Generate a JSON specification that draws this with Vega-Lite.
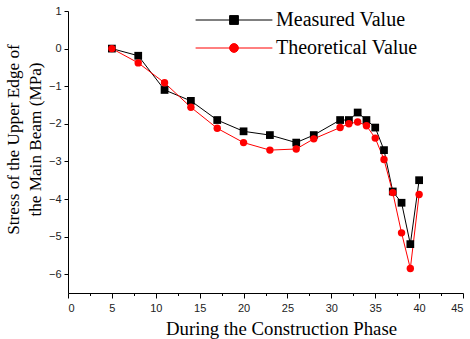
{
  "$schema": "https://vega.github.io/schema/vega-lite/v6.json",
  "width": 395,
  "height": 282,
  "autosize": {"type": "none"},
  "padding": {"left": 68, "top": 11, "right": 7, "bottom": 46},
  "background": "white",
  "config": {
    "view": {"stroke": null},
    "axis": {
      "grid": false,
      "domainColor": "black",
      "tickColor": "black",
      "labelFont": "Liberation Sans",
      "labelFontSize": 11,
      "labelColor": "#222",
      "titleFont": "Liberation Serif",
      "titleFontSize": 18,
      "titleFontWeight": "normal",
      "titleColor": "black"
    }
  },
  "data": {
    "values": [
      {"x": 5, "v": 0, "s": "Measured Value"},
      {"x": 8, "v": -0.19, "s": "Measured Value"},
      {"x": 11, "v": -1.1, "s": "Measured Value"},
      {"x": 14, "v": -1.39, "s": "Measured Value"},
      {"x": 17, "v": -1.9, "s": "Measured Value"},
      {"x": 20, "v": -2.2, "s": "Measured Value"},
      {"x": 23, "v": -2.3, "s": "Measured Value"},
      {"x": 26, "v": -2.5, "s": "Measured Value"},
      {"x": 28, "v": -2.3, "s": "Measured Value"},
      {"x": 31, "v": -1.9, "s": "Measured Value"},
      {"x": 32, "v": -1.9, "s": "Measured Value"},
      {"x": 33, "v": -1.7, "s": "Measured Value"},
      {"x": 34, "v": -1.9, "s": "Measured Value"},
      {"x": 35, "v": -2.1, "s": "Measured Value"},
      {"x": 36, "v": -2.7, "s": "Measured Value"},
      {"x": 37, "v": -3.8, "s": "Measured Value"},
      {"x": 38, "v": -4.1, "s": "Measured Value"},
      {"x": 39, "v": -5.2, "s": "Measured Value"},
      {"x": 40, "v": -3.5, "s": "Measured Value"},
      {"x": 5, "v": 0, "s": "Theoretical Value"},
      {"x": 8, "v": -0.38, "s": "Theoretical Value"},
      {"x": 11, "v": -0.91, "s": "Theoretical Value"},
      {"x": 14, "v": -1.56, "s": "Theoretical Value"},
      {"x": 17, "v": -2.12, "s": "Theoretical Value"},
      {"x": 20, "v": -2.5, "s": "Theoretical Value"},
      {"x": 23, "v": -2.7, "s": "Theoretical Value"},
      {"x": 26, "v": -2.67, "s": "Theoretical Value"},
      {"x": 28, "v": -2.4, "s": "Theoretical Value"},
      {"x": 31, "v": -2.1, "s": "Theoretical Value"},
      {"x": 32, "v": -2.0, "s": "Theoretical Value"},
      {"x": 33, "v": -1.95, "s": "Theoretical Value"},
      {"x": 34, "v": -2.05, "s": "Theoretical Value"},
      {"x": 35, "v": -2.38, "s": "Theoretical Value"},
      {"x": 36, "v": -2.95, "s": "Theoretical Value"},
      {"x": 37, "v": -3.83, "s": "Theoretical Value"},
      {"x": 38, "v": -4.9, "s": "Theoretical Value"},
      {"x": 39, "v": -5.85, "s": "Theoretical Value"},
      {"x": 40, "v": -3.88, "s": "Theoretical Value"}
    ]
  },
  "layer": [
    {
      "mark": {"type": "tick", "opacity": 0},
      "encoding": {
        "x": {
          "field": "x", "type": "quantitative",
          "scale": {"domain": [0, 45], "nice": false, "zero": false},
          "axis": {
            "orient": "bottom",
            "values": [2.5, 7.5, 12.5, 17.5, 22.5, 27.5, 32.5, 37.5, 42.5],
            "tickSize": 2.5,
            "labels": false,
            "domain": false,
            "title": null
          }
        }
      }
    },
    {
      "encoding": {
        "x": {
          "field": "x", "type": "quantitative",
          "scale": {"domain": [0, 45], "nice": false, "zero": false},
          "axis": {
            "orient": "bottom",
            "values": [0, 5, 10, 15, 20, 25, 30, 35, 40, 45],
            "tickSize": 5,
            "labelPadding": 4,
            "title": "During the Construction Phase",
            "titleFontSize": 18.8,
            "titleBaseline": "alphabetic",
            "titleX": 213,
            "titleY": 41
          }
        },
        "y": {
          "field": "v", "type": "quantitative",
          "scale": {"domain": [-6.5, 1], "nice": false, "zero": false},
          "axis": {
            "values": [-6, -5, -4, -3, -2, -1, 0, 1],
            "tickSize": 4,
            "labelPadding": 3,
            "title": ["Stress of the Upper Edge of", "the Main Beam (MPa)"],
            "titleFontSize": 17.2,
            "titleLineHeight": 22,
            "titleX": -46,
            "titleY": 128
          }
        },
        "color": {
          "field": "s", "type": "nominal",
          "scale": {"domain": ["Measured Value", "Theoretical Value"], "range": ["#000000", "#ff0000"]},
          "legend": {
            "orient": "none",
            "legendX": 156,
            "legendY": -1,
            "title": null,
            "padding": 0,
            "labelFont": "Liberation Serif",
            "labelFontSize": 20,
            "labelColor": "black",
            "symbolSize": 256,
            "symbolStrokeWidth": 1,
            "labelOffset": 32,
            "rowPadding": 8,
            "encode": {
              "symbols": {
                "enter": {
                  "shape": {"signal": "datum.value === 'Measured Value' ? 'M-4.8,0H4.8M-0.55,-0.55H0.55V0.55H-0.55Z' : 'M-4.8,0H4.8M0.55,0A0.55,0.55 0 1,1 -0.55,0A0.55,0.55 0 1,1 0.55,0Z'"}
                },
                "update": {
                  "shape": {"signal": "datum.value === 'Measured Value' ? 'M-4.8,0H4.8M-0.55,-0.55H0.55V0.55H-0.55Z' : 'M-4.8,0H4.8M0.55,0A0.55,0.55 0 1,1 -0.55,0A0.55,0.55 0 1,1 0.55,0Z'"},
                  "stroke": {"signal": "datum.value === 'Measured Value' ? '#000000' : '#ff0000'"},
                  "fill": {"signal": "datum.value === 'Measured Value' ? '#000000' : '#ff0000'"},
                  "opacity": {"value": 1},
                  "strokeWidth": {"value": 1}
                }
              }
            }
          }
        }
      },
      "layer": [
        {"mark": {"type": "line", "strokeWidth": 1}},
        {
          "transform": [{"filter": "datum.s === 'Measured Value'"}],
          "mark": {"type": "point", "filled": true, "opacity": 1, "shape": "square", "size": 60}
        },
        {
          "transform": [{"filter": "datum.s === 'Theoretical Value'"}],
          "mark": {"type": "point", "filled": true, "opacity": 1, "shape": "circle", "size": 55}
        }
      ]
    }
  ],
  "resolve": {"axis": {"x": "independent"}}
}
